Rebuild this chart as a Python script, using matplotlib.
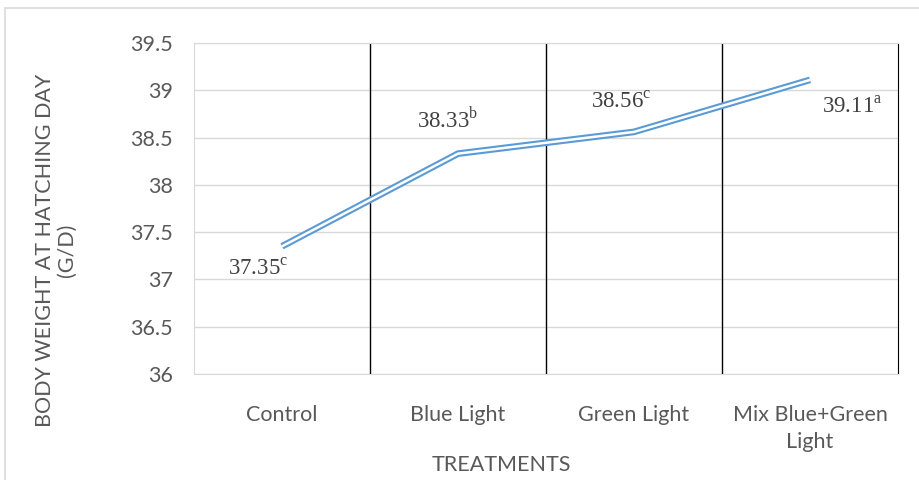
import matplotlib
matplotlib.use("Agg")
import matplotlib.pyplot as plt
from matplotlib.patches import Rectangle

# Data
treatments = ["Control", "Blue Light", "Green Light", "Mix Blue+Green\nLight"]
body_weight = [37.35, 38.33, 38.56, 39.11]
significance = ["c", "b", "c", "a"]
y_ticks = [36, 36.5, 37, 37.5, 38, 38.5, 39, 39.5]
y_tick_labels = ["36", "36.5", "37", "37.5", "38", "38.5", "39", "39.5"]

W, H = 920, 480
fig = plt.figure(figsize=(W / 100, H / 100), dpi=100)
fig.patch.set_facecolor("white")

# Chart-area frame
fig.patches.append(Rectangle((5 / W, -0.1), 1.2, 1 - 8 / H + 0.1,
                             transform=fig.transFigure, fill=False,
                             edgecolor="#d9d9d9", linewidth=1.2))

left, right, top, bottom = 194, 898, 43, 374
ax = fig.add_axes([left / W, 1 - bottom / H, (right - left) / W, (bottom - top) / H])

sans = ["Lato", "DejaVu Sans"]
serif = ["Liberation Serif", "DejaVu Serif"]
grey = "#595959"

x = list(range(1, len(treatments) + 1))

ax.set_xlim(0.5, len(treatments) + 0.5)
ax.set_ylim(36, 39.5)
ax.set_yticks(y_ticks)
ax.set_yticklabels(y_tick_labels, family=sans, fontsize=15.5, color=grey)
ax.set_xticks(x)
ax.set_xticklabels(treatments, family=sans, fontsize=15.5, color=grey,
                   linespacing=1.45)
ax.tick_params(axis="both", length=0)
ax.tick_params(axis="y", pad=15)
ax.tick_params(axis="x", pad=22)

# Horizontal gridlines and category dividers
for yv in y_ticks:
    ax.axhline(yv, color="#d9d9d9", linewidth=1.0, zorder=1)
for xv in [1.5, 2.5, 3.5]:
    ax.axvline(xv, color="black", linewidth=1.0, zorder=1)

for side in ["left", "top", "bottom"]:
    ax.spines[side].set_color("#d9d9d9")
ax.spines["right"].set_color("black")

# Double-stroke line: blue outer stroke with a white core
ax.plot(x, body_weight, color="#5b9bd5", linewidth=4.8,
        solid_joinstyle="miter", solid_capstyle="butt", zorder=3)
ax.plot(x, body_weight, color="white", linewidth=1.8,
        solid_joinstyle="miter", solid_capstyle="butt", zorder=4)

# Value labels with significance letters
offsets = [(-24, -23), (-10, 34), (-13, 30), (42, -27)]
for xi, v, s, (dx, dy) in zip(x, body_weight, significance, offsets):
    ax.annotate(f"{v:.2f}" + r"$^{\mathregular{" + s + "}}$",
                xy=(xi, v), xytext=(dx, dy), textcoords="offset pixels",
                ha="center", va="center", family=serif, fontsize=16.5,
                color="#404040", zorder=5)

fig.text(56 / W, 1 - 250 / H, "BODY WEIGHT AT HATCHING DAY\n(G/D)",
         rotation=90, ha="center", va="center", multialignment="center",
         family=sans, fontsize=15.5, color=grey, linespacing=1.15)
fig.text(501 / W, 1 - 465 / H, "TREATMENTS", ha="center", va="center",
         family=sans, fontsize=15.5, color=grey)

fig.savefig("out.png", dpi=100)
